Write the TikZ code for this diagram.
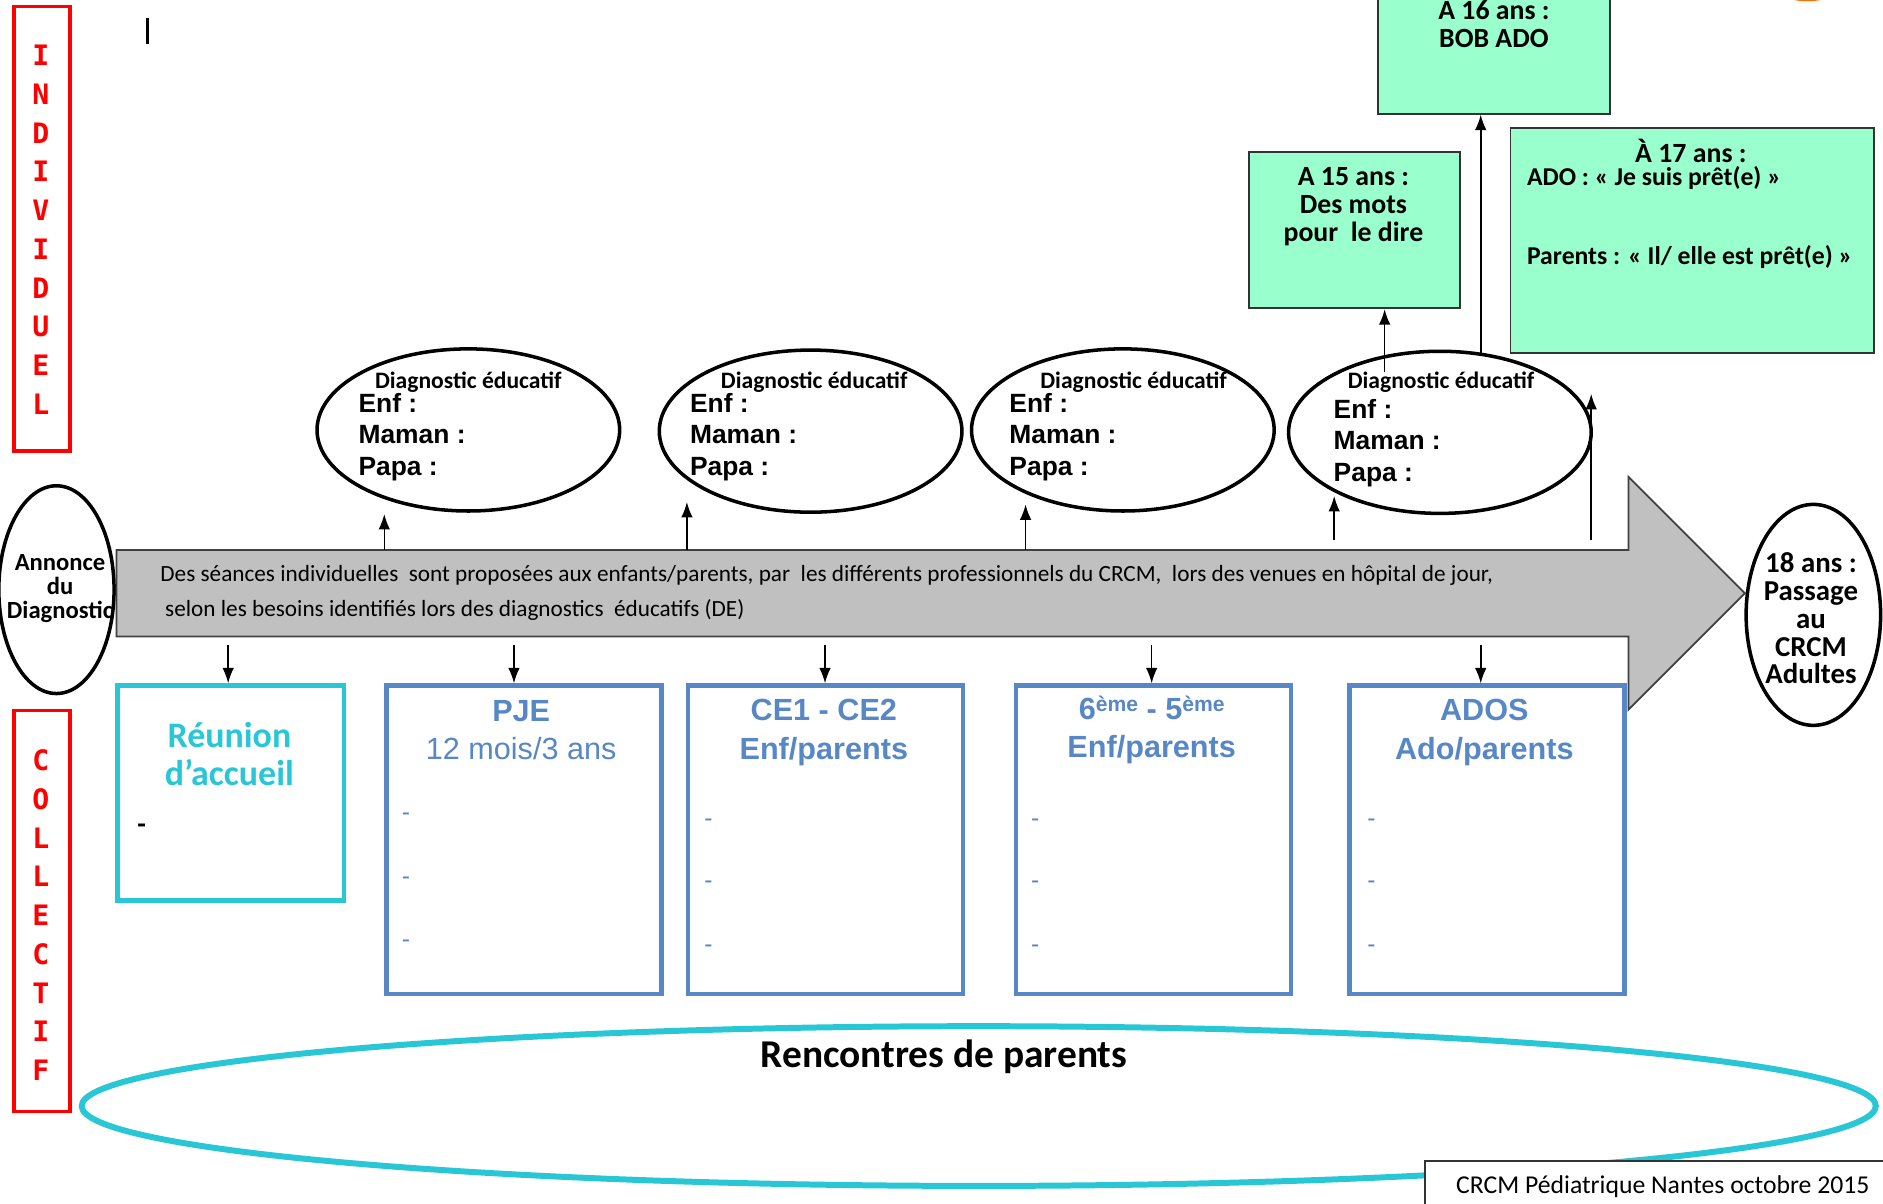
\documentclass[tikz,border=0pt]{standalone}
\usepackage{fontspec}
\setmainfont{Carlito}
\newfontfamily\arialf{Liberation Sans}
\newfontfamily\verdf{DejaVu Sans Mono}
\usepackage{tikz}
\usetikzlibrary{shapes.geometric,arrows.meta}
\definecolor{bleu}{RGB}{88,135,198}
\definecolor{turquoise}{RGB}{41,199,214}
\definecolor{menthe}{RGB}{153,255,204}
\definecolor{gris}{RGB}{192,192,192}
\newcommand{\unitpx}{0.012cm}
\newcommand{\fsz}[2]{\fontsize{#1}{#2}\selectfont}
\tikzstyle{diag}=[ellipse, draw, line width=1pt, minimum width=252*\unitpx, minimum height=135*\unitpx, inner sep=0]
\tikzstyle{fleche}=[-{Latex[length=4.4pt,width=3.3pt]}, line width=0.45pt]
\tikzstyle{bloc}=[rectangle, draw=bleu, line width=1.2pt, anchor=north west, minimum width=229*\unitpx, minimum height=257*\unitpx, inner sep=0]
\tikzstyle{titre}=[text=bleu, align=center, inner sep=0, font=\arialf\fsz{8.7}{10.9}]
\tikzstyle{tiret}=[text=bleu, inner sep=0, font=\arialf\fsz{7}{7}]
\tikzstyle{vert}=[rectangle, draw=black!80, fill=menthe, line width=0.5pt, anchor=north west, inner sep=0]
\tikzstyle{rouge}=[rectangle, draw=red, line width=1pt, anchor=north west, minimum width=47*\unitpx, inner sep=0]
\tikzstyle{lettre}=[text=red, inner sep=0, font=\verdf\bfseries\fsz{8}{8}]
\tikzstyle{texte}=[inner sep=0, align=center]

\begin{document}
\begin{tikzpicture}[x=0.012cm, y=-0.012cm]
\useasboundingbox (0,0) rectangle (1568,1002);
\clip (0,0) rectangle (1568,1002);

% individuel / collectif
\node[rouge, minimum height=370*\unitpx] (indiv) at (10,4) {};
\foreach \l [count=\i] in {I,N,D,I,V,I,D,U,E,L}
    \node[lettre] (ind\i) at (34,{46+32.3*(\i-1)}) {\l};
\node[rouge, minimum height=334*\unitpx] (coll) at (10,590) {};
\foreach \l [count=\i] in {C,O,L,L,E,C,T,I,F}
    \node[lettre] (col\i) at (34,{633+32.3*(\i-1)}) {\l};
\draw[line width=0.7pt] (123,15) coordinate (curs1) -- (123,37) coordinate (curs2);
\fill[orange!85!red] (1505,-4) ellipse [x radius=0.22cm, y radius=0.06cm];

% annonce
\node[ellipse, draw, line width=1pt, minimum width=96*\unitpx, minimum height=173*\unitpx, inner sep=0] (annonce) at (47,491) {};
\node[texte, font=\bfseries\fsz{7}{6.9}] (annonceT) at (50,490) {Annonce\\du\\Diagnostic};

% bande
\filldraw[fill=gris, draw=black!75, line width=0.5pt] (97,458) -- (1356,458) -- (1356,397) -- (1453,494)
    -- (1356,591) -- (1356,530) -- (97,530) -- cycle;
\node[anchor=west, inner sep=0, font=\fsz{6.6}{7}] (seance1) at (133,479)
    {Des séances individuelles\ \ sont proposées aux enfants/parents, par\ \ les différents professionnels du CRCM,\ \ lors des venues en hôpital de jour,};
\node[anchor=west, inner sep=0, font=\fsz{6.6}{7}] (seance2) at (137,508)
    {selon les besoins identifiés lors des diagnostics\ \ éducatifs (DE)};

% diagnostics educatifs
\foreach \n/\x/\y/\tx/\ty/\my in {1/390/358/390/298/364, 2/675/359/678/574/364, 3/935/358/944/840/364, 4/1199/360/1200/1110/369} {
    \node[diag] (de\n) at (\x,\y) {};
    \node[texte, font=\bfseries\fsz{6.7}{7}] (det\n) at (\tx,318) {Diagnostic éducatif};
    \node[anchor=west, align=left, inner sep=0, font=\arialf\bfseries\fsz{7.5}{9}] (dem\n) at (\ty,\my) {Enf :\\Maman :\\Papa :};
}
\foreach \n/\x/\yb/\yh in {1/320/458/428, 2/572/458/418, 3/854/458/420, 4/1111/450/413, 5/1325/450/328} {
    \coordinate (b\n) at (\x,\yb);
    \coordinate (h\n) at (\x,\yh);
    \draw[fleche] (b\n) -- (h\n);
}

% 15, 16, 17 ans
\node[vert, minimum width=176*\unitpx, minimum height=130*\unitpx] (ans15) at (1039,126) {};
\node[vert, minimum width=193*\unitpx, minimum height=124*\unitpx] (ans16) at (1147,-30) {};
\node[vert, minimum width=303*\unitpx, minimum height=187*\unitpx] (ans17) at (1257,106) {};
\node[texte, font=\bfseries\fsz{7.9}{7.9}] (t15) at (1127,172) {A 15 ans :\\Des mots\\pour\ \ le dire};
\node[texte, font=\bfseries\fsz{7.9}{7.9}] (t16) at (1244,18) {À 16 ans :\\BOB ADO};
\node[texte, font=\bfseries\fsz{7.9}{7.9}] (t17) at (1408,126) {À 17 ans :};
\node[anchor=west, inner sep=0, font=\bfseries\fsz{7.3}{7.9}] (t17a) at (1271,148) {ADO : « Je suis prêt(e) »};
\node[anchor=west, inner sep=0, font=\bfseries\fsz{7.3}{7.9}] (t17b) at (1271,214) {Parents : « Il/ elle est prêt(e) »};
\coordinate (p15) at (1153,310);
\coordinate (p16) at (1233,294);
\draw[fleche] (p15) -- (p15 |- ans15.south);
\draw[fleche] (p16) -- (p16 |- ans16.south);

% 18 ans
\node[ellipse, draw, line width=1pt, minimum width=112*\unitpx, minimum height=184*\unitpx, inner sep=0] (adulte) at (1510,512) {};
\node[texte, font=\bfseries\fsz{8.2}{7.9}] (adulteT) at (1508,515) {18 ans :\\Passage\\au\\CRCM\\Adultes};

% collectif
\node[rectangle, draw=turquoise, line width=1.2pt, anchor=north west, minimum width=189*\unitpx, minimum height=179*\unitpx, inner sep=0] (reunion) at (96,569) {};
\node[texte, text=turquoise, font=\bfseries\fsz{10.2}{10.6}] (reunionT) at (191,628) {Réunion\\d’accueil};
\node[inner sep=0, font=\bfseries\fsz{8}{8}] (reunionD) at (118,690) {-};
\foreach \n/\x in {pje/320, ce/571, six/844, ados/1122}
    \node[bloc] (\n) at (\x,569) {};
\node[titre] (pjeT) at (434,608) {\textbf{PJE}\\12 mois/3 ans};
\node[titre] (ceT) at (686,610) {\textbf{CE1 - CE2}\\\textbf{Enf/parents}};
\node[titre] (sixT) at (959,608) {\textbf{6\raisebox{0.45ex}{\fsz{6}{6}ème} - 5\raisebox{0.45ex}{\fsz{6}{6}ème}}\\\textbf{Enf/parents}};
\node[titre] (adosT) at (1236,610) {\textbf{ADOS}\\\textbf{Ado/parents}};
\foreach \x/\y in {338/680, 338/733, 338/786, 590/685, 590/737, 590/790, 862/685, 862/737, 862/790, 1142/685, 1142/737, 1142/790}
    \node[tiret] (d-\x-\y) at (\x,\y) {-};
\foreach \n/\x in {reunion/190, pje/428, ce/687, six/959, ados/1233} {
    \coordinate (s\n) at (\x,537);
    \draw[fleche] (s\n) -- (s\n |- \n.north);
}

% rencontres
\node[ellipse, draw=turquoise, line width=1.7pt, minimum width=1494*\unitpx, minimum height=133*\unitpx, inner sep=0] (rencontre) at (815,921) {};
\node[texte, font=\bfseries\fsz{11.2}{12}] (rencontreT) at (786,880) {Rencontres de parents};
\node[rectangle, draw=black!80, fill=white, line width=0.5pt, anchor=north west, minimum width=400*\unitpx, minimum height=60*\unitpx, inner sep=0] (pied) at (1186,966) {};
\node[anchor=west, inner sep=0, font=\fsz{7.3}{7.5}] (piedT) at (1212,988) {CRCM Pédiatrique Nantes octobre 2015};

\end{tikzpicture}
\end{document}
